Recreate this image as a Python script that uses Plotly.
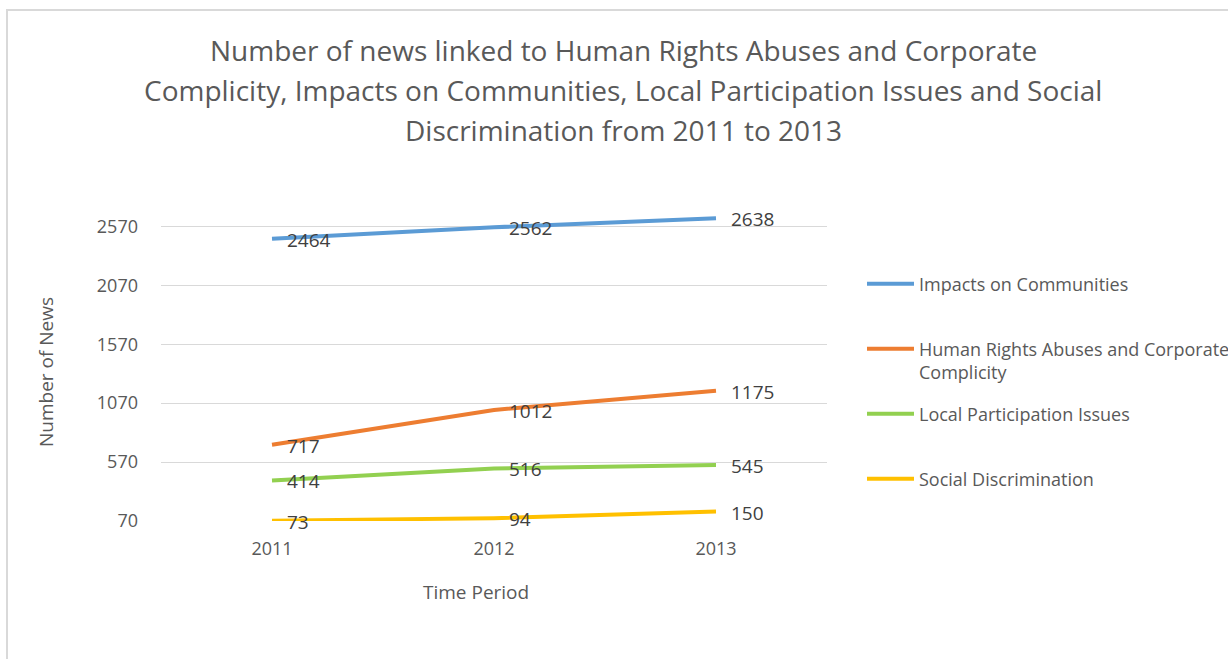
import plotly.graph_objects as go

years = ["2011", "2012", "2013"]
series_names = [
    "Impacts on Communities",
    "Human Rights Abuses and Corporate<br>Complicity",
    "Local Participation Issues",
    "Social Discrimination",
]
impacts = [2464, 2562, 2638]
human_rights = [717, 1012, 1175]
local_part = [414, 516, 545]
social_disc = [73, 94, 150]
y_ticks = [70, 570, 1070, 1570, 2070, 2570]

series_values = [impacts, human_rights, local_part, social_disc]
colors = ["#5B9BD5", "#ED7D31", "#92D050", "#FFC000"]

FONT = "Open Sans"
GRAY = "#595959"

L, R, T, B = 161, 401, 211, 138
W, H = 1228, 659
pw, ph = W - L - R, H - T - B


def px_x(px):
    return (px - L) / pw


def px_y(py):
    return (H - B - py) / ph


legend_ids = ["legend", "legend2", "legend3", "legend4"]
legend_centers = [284, 360.5, 414, 479]

fig = go.Figure()
for i, (name, vals, col) in enumerate(zip(series_names, series_values, colors)):
    fig.add_trace(go.Scatter(
        x=years, y=vals, mode="lines", name=name,
        line=dict(color=col, width=4),
        legend=legend_ids[i],
    ))

annotations = []
for vals in series_values:
    for idx, yv in enumerate(vals):
        annotations.append(dict(
            x=idx, y=yv, xref="x", yref="y", text=str(yv), showarrow=False,
            xanchor="left", yanchor="middle", xshift=13, yshift=-1,
            font=dict(family=FONT, size=19, color="#404040"),
        ))

title_lines = [
    "Number of news linked to Human Rights Abuses and Corporate",
    "Complicity, Impacts on Communities, Local Participation Issues and Social",
    "Discrimination from 2011 to 2013",
]
for k, line in enumerate(title_lines):
    annotations.append(dict(
        x=px_x(623), y=px_y(50 + 40 * k), xref="paper", yref="paper",
        text=line, showarrow=False, xanchor="center", yanchor="middle",
        font=dict(family=FONT, size=28, color=GRAY),
    ))

annotations.append(dict(
    x=px_x(476), y=px_y(592), xref="paper", yref="paper", text="Time Period",
    showarrow=False, xanchor="center", yanchor="middle",
    font=dict(family=FONT, size=19, color=GRAY),
))
annotations.append(dict(
    x=px_x(46), y=px_y(372), xref="paper", yref="paper", text="Number of News",
    showarrow=False, xanchor="center", yanchor="middle", textangle=-90,
    font=dict(family=FONT, size=19, color=GRAY),
))

legend_common = dict(
    xanchor="left", yanchor="middle", valign="top",
    font=dict(family=FONT, size=18, color=GRAY),
    itemwidth=47, bgcolor="rgba(0,0,0,0)", borderwidth=0,
)
layout_legends = {}
for lid, cy in zip(legend_ids, legend_centers):
    layout_legends[lid] = dict(x=px_x(862), y=px_y(cy), **legend_common)

fig.update_layout(
    width=W, height=H,
    margin=dict(l=L, r=R, t=T, b=B, autoexpand=False),
    paper_bgcolor="white", plot_bgcolor="white",
    font=dict(family=FONT, color=GRAY),
    showlegend=True,
    xaxis=dict(
        type="category", range=[-0.5, 2.5], showgrid=False, showline=False,
        ticks="", tickfont=dict(family=FONT, size=18, color=GRAY),
        ticklabelstandoff=15, zeroline=False,
    ),
    yaxis=dict(
        range=[70, 2700], tickvals=y_ticks, ticktext=[str(v) for v in y_ticks],
        showgrid=True, gridcolor="#D9D9D9", gridwidth=1.3, zeroline=False,
        showline=False, ticks="", tickfont=dict(family=FONT, size=18, color=GRAY),
        ticklabelstandoff=22,
    ),
    annotations=annotations,
    shapes=[dict(
        type="rect", xref="paper", yref="paper",
        x0=px_x(7), y0=px_y(10), x1=px_x(1240), y1=px_y(700),
        line=dict(color="#D9D9D9", width=2), fillcolor="rgba(0,0,0,0)",
        layer="below",
    )],
    **layout_legends,
)

fig.write_html("out.html")
